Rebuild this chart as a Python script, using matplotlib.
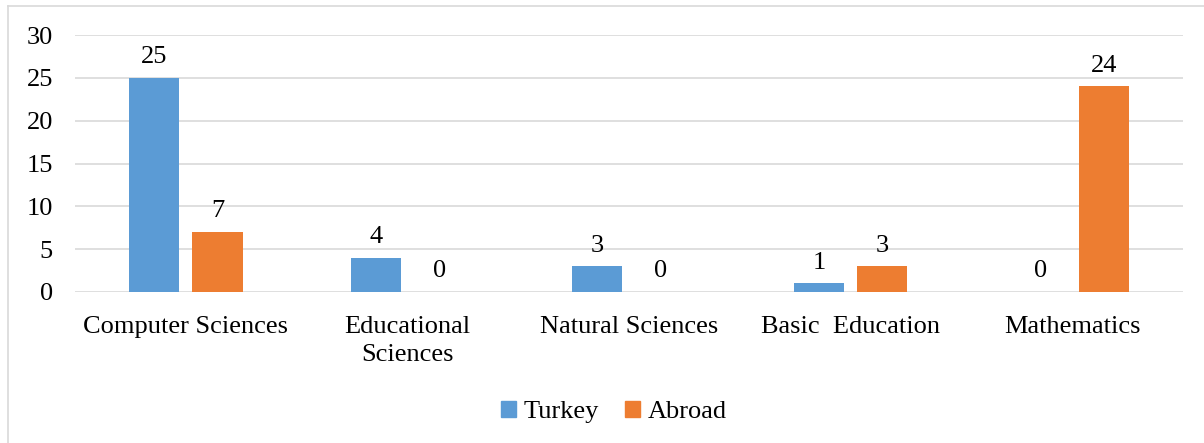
import matplotlib
matplotlib.use("Agg")
import matplotlib.pyplot as plt
from matplotlib.lines import Line2D
from matplotlib.patches import Patch
import numpy as np

categories = ["Computer Sciences", "Educational\nSciences", "Natural Sciences",
              "Basic  Education", "Mathematics"]
turkey = [25, 4, 3, 1, 0]
abroad = [7, 0, 0, 3, 24]
series_names = ["Turkey", "Abroad"]
y_ticks = [0, 5, 10, 15, 20, 25, 30]

blue = "#5B9BD5"
orange = "#ED7D31"
grid_c = "#D9D9D9"

plt.rcParams["font.family"] = ["Liberation Serif", "DejaVu Serif"]
fs = 19

fig = plt.figure(figsize=(12.04, 4.43), dpi=100)
W, H = 1204, 443
ax = fig.add_axes([75 / W, 1 - 292 / H, (1183 - 75) / W, (292 - 35) / H])

x = np.arange(len(categories))
bw = 0.226
off = 0.143
b1 = ax.bar(x - off, turkey, bw, color=blue, zorder=3)
b2 = ax.bar(x + off, abroad, bw, color=orange, zorder=3)
for bars, vals in ((b1, turkey), (b2, abroad)):
    for r, v in zip(bars, vals):
        ax.annotate(str(v), (r.get_x() + r.get_width() / 2, v),
                    xytext=(0, 7), textcoords="offset points",
                    ha="center", va="bottom", fontsize=fs)

ax.set_xlim(-0.5, len(categories) - 0.5)
ax.set_ylim(0, 30)
ax.set_yticks(y_ticks)
ax.set_xticks(x)
ax.set_xticklabels(categories, fontsize=fs, linespacing=1.4)
ax.tick_params(axis="y", labelsize=fs, length=0, pad=16)
ax.tick_params(axis="x", length=0, pad=17)
ax.grid(axis="y", color=grid_c, linewidth=1.2, zorder=0)
for s in ax.spines.values():
    s.set_visible(False)

handles = [Patch(color=blue), Patch(color=orange)]
fig.legend(handles, series_names, loc="center", bbox_to_anchor=(614 / W, 1 - 412 / H),
           ncol=2, frameon=False, fontsize=fs, handlelength=0.55, handleheight=0.55,
           handletextpad=0.3, columnspacing=1.0)

# outer frame (left and top edges)
fig.add_artist(Line2D([8 / W, 8 / W], [0, 1 - 6 / H], color=grid_c, linewidth=1.2,
                      transform=fig.transFigure))
fig.add_artist(Line2D([8 / W, 1], [1 - 6 / H, 1 - 6 / H], color=grid_c, linewidth=1.2,
                      transform=fig.transFigure))

fig.savefig("out.png", dpi=100)
